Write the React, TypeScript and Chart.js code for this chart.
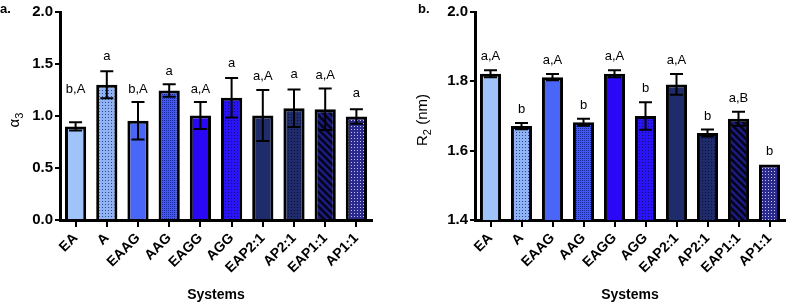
import React, { useEffect, useRef } from "react";
import { Chart, registerables } from "chart.js";
Chart.register(...registerables);

const categories = ["EA", "A", "EAAG", "AAG", "EAGG", "AGG", "EAP2:1", "AP2:1", "EAP1:1", "AP1:1"];

const alphaValues = [0.9, 1.3, 0.955, 1.245, 1.005, 1.175, 1.005, 1.075, 1.065, 0.995];
const alphaErrors = [0.04, 0.13, 0.18, 0.06, 0.13, 0.19, 0.245, 0.18, 0.2, 0.07];
const alphaLetters = ["b,A", "a", "b,A", "a", "a,A", "a", "a,A", "a", "a,A", "a"];
const alphaLetterLevels = [1.22, 1.54, 1.22, 1.39, 1.22, 1.47, 1.35, 1.37, 1.36, 1.18];
const alphaTicks = [0, 0.5, 1.0, 1.5, 2.0];

const r2Values = [1.822, 1.671, 1.812, 1.682, 1.822, 1.7, 1.791, 1.651, 1.692, 1.56];
const r2Errors = [0.01, 0.009, 0.009, 0.01, 0.01, 0.04, 0.03, 0.01, 0.02, 0];
const r2Letters = ["a,A", "b", "a,A", "b", "a,A", "b", "a,A", "b", "a,B", "b"];
const r2Ticks = [1.4, 1.6, 1.8, 2.0];

const FONT = "'Liberation Sans', Arial, Helvetica, sans-serif";

type Fill = { kind: "solid" | "dots" | "stripes"; base: string; fg?: string; size?: number };
const fillSpecs: Fill[] = [
  { kind: "solid", base: "#a0c3fa" },
  { kind: "dots", base: "#90b3f3", fg: "#2c4596", size: 3 },
  { kind: "solid", base: "#4a66f6" },
  { kind: "dots", base: "#4258f2", fg: "#1a2aa0", size: 2 },
  { kind: "solid", base: "#2a08f6" },
  { kind: "dots", base: "#2a14f5", fg: "#10107a", size: 3 },
  { kind: "solid", base: "#1f2c6b" },
  { kind: "dots", base: "#1f2b6a", fg: "#0a1036", size: 3 },
  { kind: "stripes", base: "#1c1c82", fg: "#04041c", size: 7 },
  { kind: "dots", base: "#2a2a8e", fg: "#c4c4ff", size: 3 },
];

function makeFill(spec: Fill): string | CanvasPattern {
  if (spec.kind === "solid") return spec.base;
  const s = spec.size || 3;
  const c = document.createElement("canvas");
  c.width = s;
  c.height = s;
  const ctx = c.getContext("2d")!;
  ctx.fillStyle = spec.base;
  ctx.fillRect(0, 0, s, s);
  if (spec.kind === "dots") {
    ctx.fillStyle = spec.fg!;
    ctx.fillRect(0, 0, 1, 1);
  } else {
    ctx.strokeStyle = spec.fg!;
    ctx.lineWidth = 2.6;
    for (let k = -1; k <= 1; k++) {
      ctx.beginPath();
      ctx.moveTo(k * s - 1, -1);
      ctx.lineTo(k * s + s + 1, s + 1);
      ctx.stroke();
    }
  }
  return ctx.createPattern(c, "repeat")!;
}

type PanelProps = {
  width: number;
  values: number[];
  errors: number[];
  letters: string[];
  letterLevels?: number[];
  ticks: number[];
  titleMain: string;
  titleSub: string;
  titleRest: string;
  titleX: number;
  padRight: number;
  yAxisWidth: number;
};

function Panel(p: PanelProps) {
  const ref = useRef<HTMLCanvasElement | null>(null);
  useEffect(() => {
    const canvas = ref.current!;
    const fills = fillSpecs.map(makeFill);
    const overlay = {
      id: "overlay",
      afterDatasetsDraw(chart: any) {
        const ctx = chart.ctx as CanvasRenderingContext2D;
        const y = chart.scales.y;
        const meta = chart.getDatasetMeta(0);
        ctx.save();
        ctx.strokeStyle = "#000";
        ctx.lineWidth = 2;
        p.values.forEach((v, i) => {
          const x = meta.data[i].x;
          const e = p.errors[i];
          const top = y.getPixelForValue(v + e);
          const bot = y.getPixelForValue(v - e);
          if (e > 0) {
            ctx.beginPath();
            ctx.moveTo(x, top);
            ctx.lineTo(x, bot);
            ctx.moveTo(x - 6.5, top);
            ctx.lineTo(x + 6.5, top);
            ctx.moveTo(x - 6.5, bot);
            ctx.lineTo(x + 6.5, bot);
            ctx.stroke();
          }
          ctx.fillStyle = "#000";
          ctx.font = `13px ${FONT}`;
          ctx.textAlign = "center";
          ctx.textBaseline = "alphabetic";
          const ly = p.letterLevels ? y.getPixelForValue(p.letterLevels[i]) : top - 10;
          ctx.fillText(p.letters[i], x, ly);
        });
        ctx.restore();
      },
      afterDraw(chart: any) {
        const ctx = chart.ctx as CanvasRenderingContext2D;
        const area = chart.chartArea;
        const cy = (area.top + area.bottom) / 2 + 4;
        ctx.save();
        ctx.translate(p.titleX, cy);
        ctx.rotate(-Math.PI / 2);
        ctx.fillStyle = "#000";
        ctx.textBaseline = "middle";
        ctx.textAlign = "left";
        const mainFont = `15px ${FONT}`;
        const subFont = `11px ${FONT}`;
        ctx.font = mainFont;
        const w1 = ctx.measureText(p.titleMain).width;
        const w3 = ctx.measureText(p.titleRest).width;
        ctx.font = subFont;
        const w2 = ctx.measureText(p.titleSub).width;
        let x0 = -(w1 + w2 + w3) / 2;
        ctx.font = mainFont;
        ctx.fillText(p.titleMain, x0, 0);
        ctx.font = subFont;
        ctx.fillText(p.titleSub, x0 + w1, 5);
        ctx.font = mainFont;
        ctx.fillText(p.titleRest, x0 + w1 + w2, 0);
        ctx.restore();
      },
    };
    const min = p.ticks[0];
    const max = p.ticks[p.ticks.length - 1];
    const chart = new Chart(canvas, {
      type: "bar",
      data: {
        labels: categories,
        datasets: [
          {
            data: p.values,
            backgroundColor: fills as any,
            borderColor: "#000",
            borderWidth: 3,
            borderSkipped: "start",
            barPercentage: 0.68,
            categoryPercentage: 1,
          },
        ],
      },
      options: {
        responsive: false,
        animation: false,
        layout: { padding: { top: 12, right: p.padRight, left: 0, bottom: 0 } },
        plugins: { legend: { display: false }, tooltip: { enabled: false } },
        scales: {
          x: {
            offset: true,
            grid: { offset: false, drawOnChartArea: false, drawTicks: true, tickLength: 7, color: "#000", lineWidth: 2 },
            border: { display: true, color: "#000", width: 3 },
            ticks: {
              autoSkip: false,
              maxRotation: 45,
              minRotation: 45,
              color: "#000",
              padding: 3,
              font: { family: FONT, size: 14, weight: "bold" },
            },
            title: {
              display: true,
              text: "Systems",
              color: "#000",
              font: { family: FONT, size: 14, weight: "bold" },
              padding: { top: 0, bottom: 1 },
            },
            afterFit: (s: any) => {
              s.height = 85;
            },
          },
          y: {
            min,
            max,
            afterBuildTicks: (s: any) => {
              s.ticks = p.ticks.map((v) => ({ value: v }));
            },
            ticks: {
              color: "#000",
              padding: 2,
              font: { family: FONT, size: 15, weight: "bold" },
              callback: (v: any) => Number(v).toFixed(1),
            },
            grid: { drawOnChartArea: false, drawTicks: true, tickLength: 5, color: "#000", lineWidth: 2 },
            border: { display: true, color: "#000", width: 3 },
            afterFit: (s: any) => {
              s.width = p.yAxisWidth;
            },
          },
        },
      } as any,
      plugins: [overlay],
    });
    return () => chart.destroy();
  }, []);
  return <canvas ref={ref} width={p.width} height={305} style={{ display: "block" }} />;
}

export default function App() {
  return (
    <div style={{ position: "fixed", left: 0, top: 0, width: 787, height: 305, background: "#fff", overflow: "hidden" }}>
      <div style={{ position: "absolute", left: 0, top: 0 }}>
        <Panel
          width={390}
          values={alphaValues}
          errors={alphaErrors}
          letters={alphaLetters}
          letterLevels={alphaLetterLevels}
          ticks={alphaTicks}
          titleMain="α"
          titleSub="3"
          titleRest=""
          titleX={15}
          padRight={18}
          yAxisWidth={60}
        />
      </div>
      <div style={{ position: "absolute", left: 390, top: 0 }}>
        <Panel
          width={397}
          values={r2Values}
          errors={r2Errors}
          letters={r2Letters}
          ticks={r2Ticks}
          titleMain="R"
          titleSub="2"
          titleRest=" (nm)"
          titleX={33}
          padRight={2}
          yAxisWidth={85}
        />
      </div>
      <div style={{ position: "absolute", left: 0, top: 1, font: `bold 13px ${FONT}`, color: "#000" }}>a.</div>
      <div style={{ position: "absolute", left: 418, top: 1, font: `bold 13px ${FONT}`, color: "#000" }}>b.</div>
    </div>
  );
}
